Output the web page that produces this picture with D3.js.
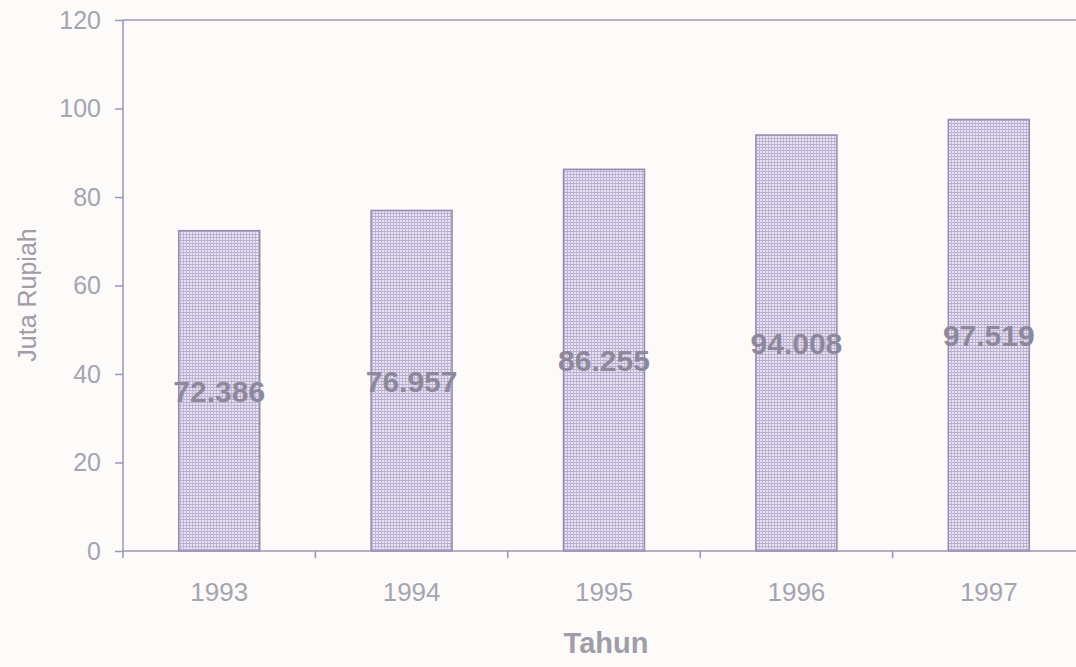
<!DOCTYPE html>
<html>
<head>
<meta charset="utf-8">
<style>
html, body {
  margin: 0;
  background: #fcfbf9;
  overflow: hidden;
}
text {
  font-family: "Liberation Sans", Arial, sans-serif;
}
.axis path, .axis line {
  stroke: #9d95b8;
  stroke-width: 1.5px;
}
.axis text {
  fill: #a6a4b0;
}
.bar {
  fill: url(#grid);
  stroke: #948bb0;
  stroke-width: 1.5px;
}
.val {
  fill: #8d899b;
  font-size: 30px;
  font-weight: bold;
}
.title {
  fill: #a09ca8;
}
</style>
<script src="https://cdnjs.cloudflare.com/ajax/libs/d3/7.8.5/d3.min.js"></script>
</head>
<body>
<svg id="chart" width="1076" height="667"></svg>
<script>
var years = ["1993", "1994", "1995", "1996", "1997"];
var values = [72.386, 76.957, 86.255, 94.008, 97.519];
var valueLabels = ["72.386", "76.957", "86.255", "94.008", "97.519"];
var yTicks = [0, 20, 40, 60, 80, 100, 120];

var svg = d3.select("#chart");
var mLeft = 123, mRight = 1085, mTop = 20, mBottom = 551;

// grid-like fill of the bars
var defs = svg.append("defs");
var pat = defs.append("pattern")
    .attr("id", "grid")
    .attr("patternUnits", "userSpaceOnUse")
    .attr("width", 3).attr("height", 3);
pat.append("rect").attr("width", 3).attr("height", 3).attr("fill", "#e8e2f1");
pat.append("rect").attr("width", 3).attr("height", 1).attr("fill", "#b9aed2");
pat.append("rect").attr("width", 1).attr("height", 3).attr("fill", "#bfb4d6");

var x = d3.scaleBand().domain(years).range([mLeft, mRight]);
var y = d3.scaleLinear().domain([0, 120]).range([mBottom, mTop]);
var barW = 81;

svg.selectAll(".bar")
  .data(values)
  .enter().append("rect")
    .attr("class", "bar")
    .attr("x", (d, i) => x(years[i]) + x.bandwidth() / 2 - barW / 2)
    .attr("y", d => y(d))
    .attr("width", barW)
    .attr("height", d => y(0) - y(d));

// top border line
svg.append("line")
    .attr("x1", mLeft).attr("x2", 1076)
    .attr("y1", mTop).attr("y2", mTop)
    .attr("stroke", "#9d95b8").attr("stroke-width", 1.5);

var yAxis = svg.append("g")
    .attr("class", "axis")
    .attr("transform", "translate(" + mLeft + ",0)")
    .call(d3.axisLeft(y).tickValues(yTicks).tickSize(8).tickPadding(14));
yAxis.select(".domain").attr("d", "M0," + mBottom + "V" + mTop);
yAxis.selectAll("text").attr("font-size", 25);

// x axis: ticks at category boundaries
var xAxis = svg.append("g")
    .attr("class", "axis")
    .attr("transform", "translate(0," + mBottom + ")");
xAxis.append("line").attr("x1", mLeft).attr("x2", 1076);
xAxis.selectAll(".tk")
  .data(years)
  .enter().append("line")
    .attr("x1", d => x(d)).attr("x2", d => x(d))
    .attr("y1", 0).attr("y2", 7);
xAxis.selectAll(".lbl")
  .data(years)
  .enter().append("text")
    .attr("x", d => x(d) + x.bandwidth() / 2)
    .attr("y", 50)
    .attr("text-anchor", "middle")
    .attr("font-size", 26)
    .text(d => d);

svg.selectAll(".val")
  .data(values)
  .enter().append("text")
    .attr("class", "val")
    .attr("x", (d, i) => x(years[i]) + x.bandwidth() / 2)
    .attr("y", d => y(d / 2) + 11)
    .attr("text-anchor", "middle")
    .text((d, i) => valueLabels[i]);

svg.append("text")
    .attr("class", "title")
    .attr("x", 606).attr("y", 653)
    .attr("text-anchor", "middle")
    .attr("font-size", 29)
    .attr("font-weight", "bold")
    .text("Tahun");

svg.append("text")
    .attr("class", "title")
    .attr("transform", "translate(36,295) rotate(-90)")
    .attr("text-anchor", "middle")
    .attr("font-size", 25)
    .text("Juta Rupiah");
</script>
</body>
</html>
